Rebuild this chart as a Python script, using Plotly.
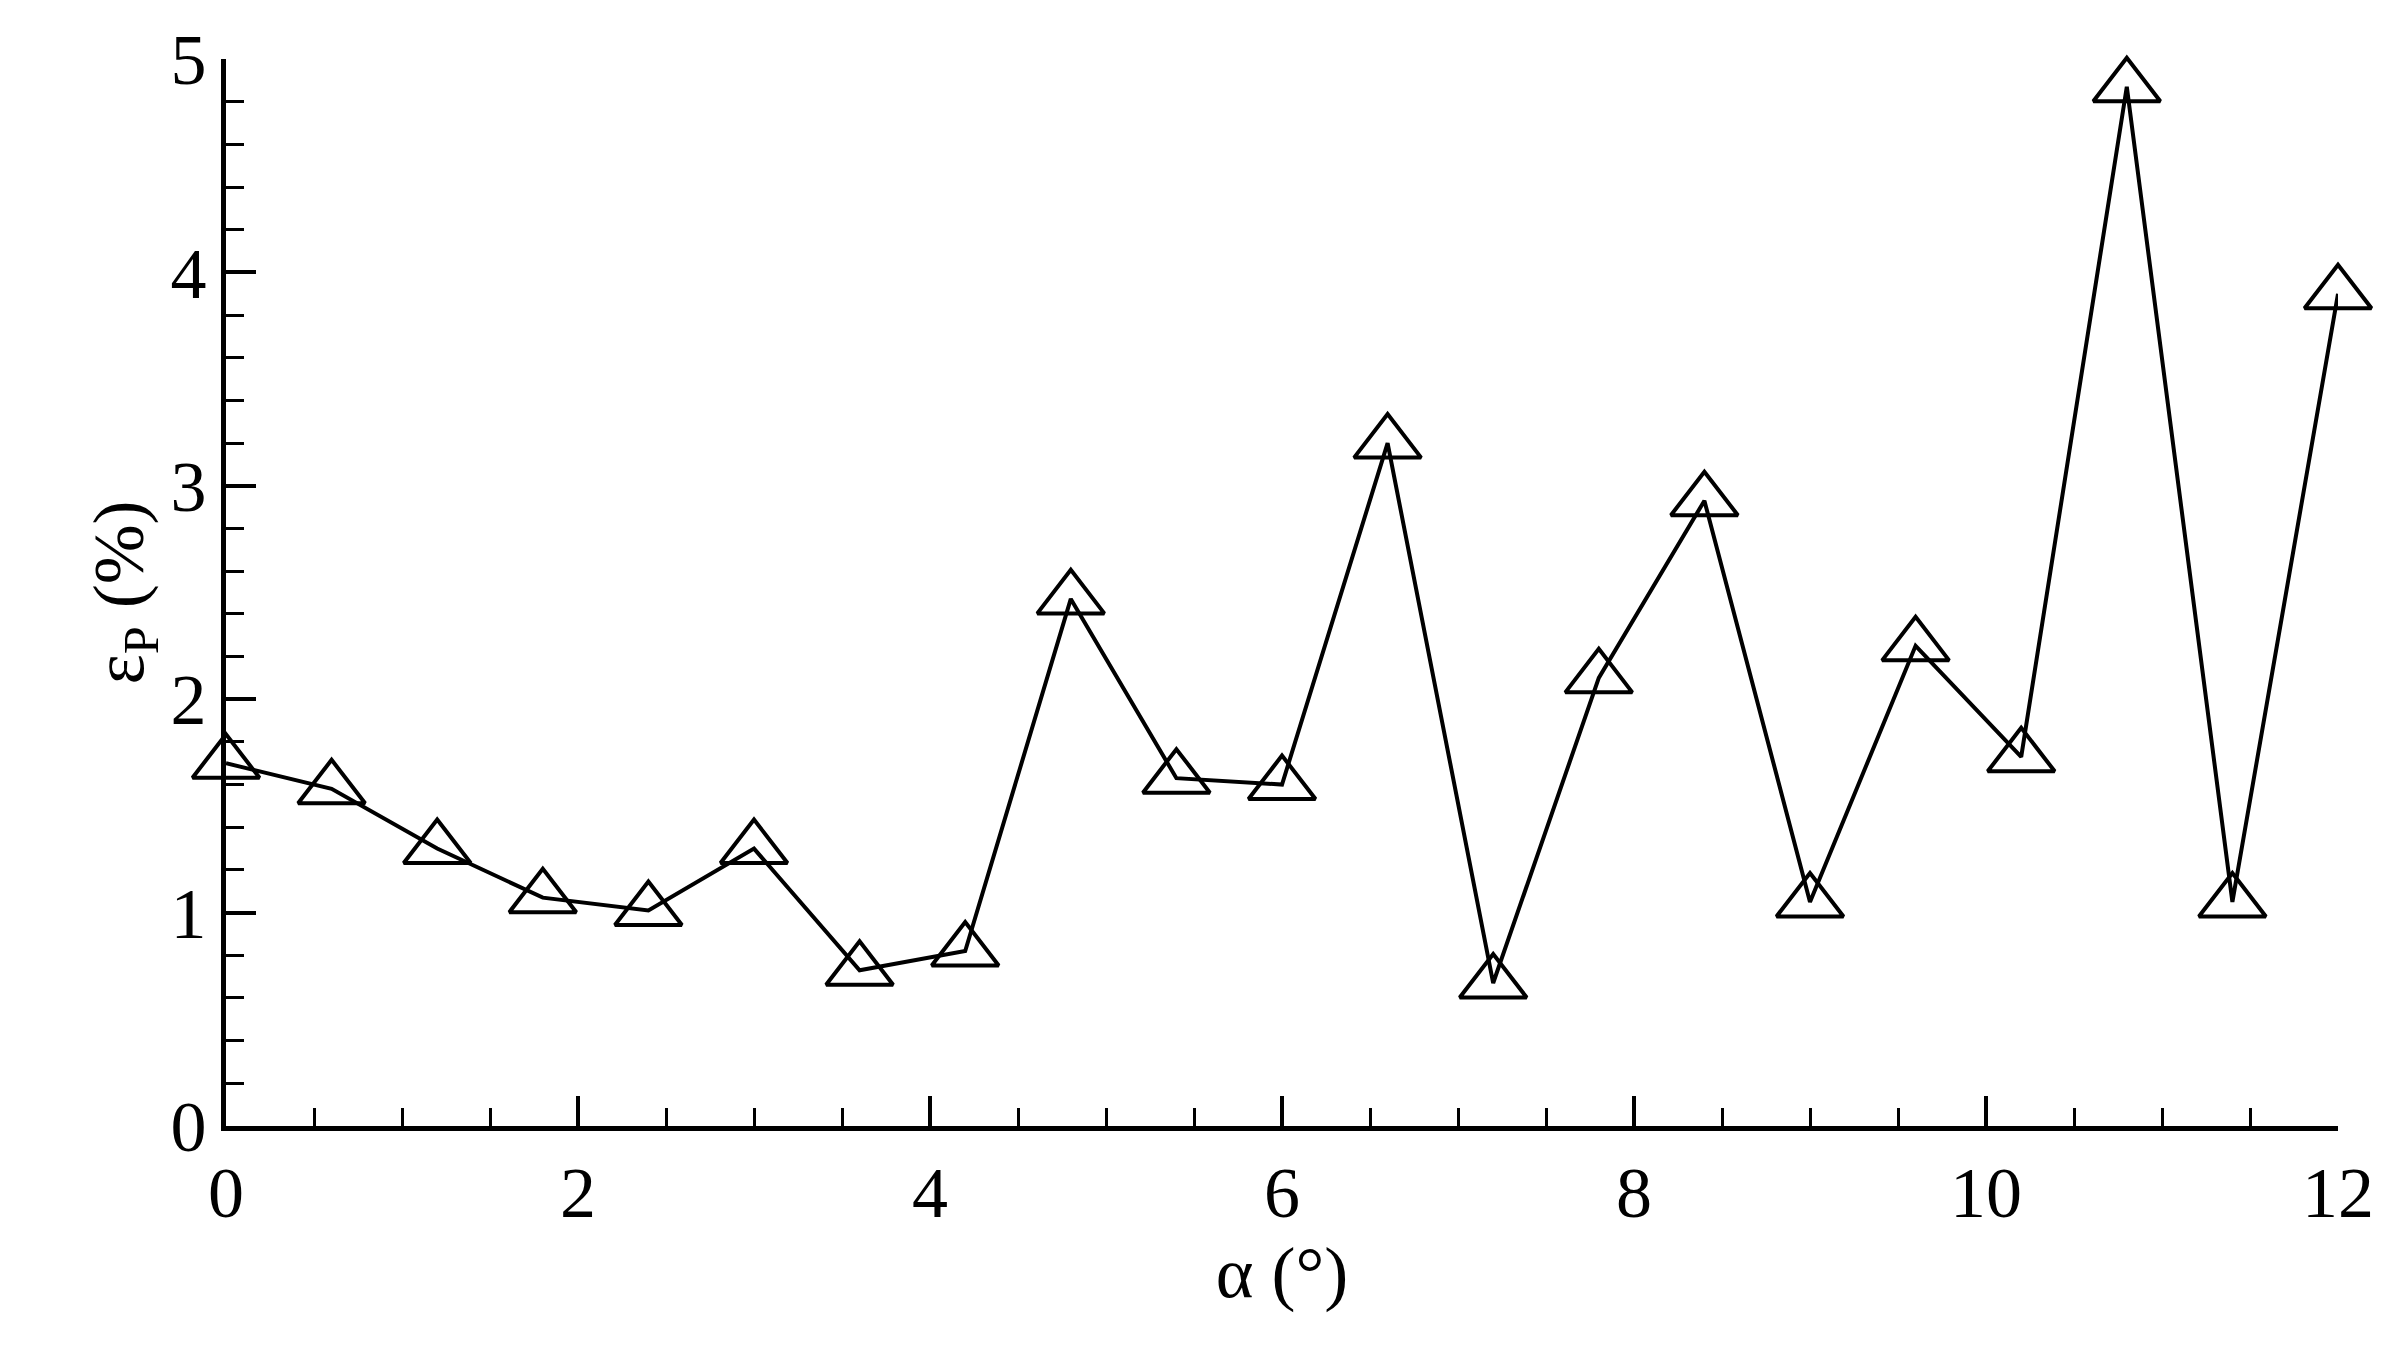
import plotly.graph_objects as go

alpha = [0,0.6,1.2,1.8,2.4,3.0,3.6,4.2,4.8,5.4,6.0,6.6,7.2,7.8,8.4,9.0,9.6,10.2,10.8,11.4,12.0]
eps = [1.7,1.58,1.3,1.07,1.01,1.3,0.73,0.82,2.47,1.63,1.6,3.2,0.67,2.1,2.93,1.05,2.25,1.73,4.87,1.05,3.9]

fig = go.Figure(go.Scatter(x=alpha, y=eps, mode="lines+markers",
    line=dict(color="black", width=4),
    marker=dict(symbol="triangle-up-open", size=58, color="black", line=dict(width=4)),
    cliponaxis=False))
font = dict(family="Liberation Serif", size=72, color="black")
ax = dict(showline=True, linecolor="black", linewidth=5, showgrid=False, zeroline=False,
          ticks="inside", ticklen=30, tickwidth=4, tickcolor="black", tickfont=font)
fig.update_layout(
    width=2397, height=1351, plot_bgcolor="white", paper_bgcolor="white",
    margin=dict(l=218, r=67, t=44, b=233), showlegend=False,
    xaxis=dict(range=[0,12], dtick=2, minor=dict(dtick=0.5, ticks="inside", ticklen=18, tickwidth=3, tickcolor="black"),
               title=dict(text="α (°)", font=font, standoff=5), **ax),
    yaxis=dict(range=[0,5], dtick=1, minor=dict(dtick=0.2, ticks="inside", ticklen=18, tickwidth=3, tickcolor="black"),
               title=dict(text="ε<sub>P</sub> (%)", font=font, standoff=5), **ax),
)
fig.write_html("out.html")
